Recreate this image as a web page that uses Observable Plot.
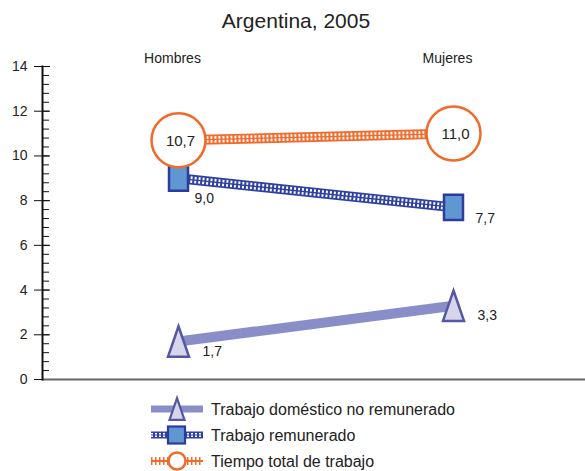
<!DOCTYPE html>
<html>
<head>
<meta charset="utf-8">
<script src="https://cdn.jsdelivr.net/npm/d3@7"></script>
<script src="https://cdn.jsdelivr.net/npm/@observablehq/plot@0.6"></script>
<style>
  html, body { margin: 0; padding: 0; background: #fff; }
  body { width: 585px; height: 471px; position: relative; overflow: hidden; font-family: "Liberation Sans", Arial, sans-serif; color: #222; }
  #title { position: absolute; left: 0; top: 10px; width: 585px; padding-left: 7px; box-sizing: border-box; text-align: center; font-size: 21px; line-height: 21px; }
  #chart { position: absolute; left: 0; top: 40px; }
  #legend { position: absolute; left: 0; top: 395px; }
</style>
</head>
<body>
<div id="title">Argentina, 2005</div>
<div id="chart"></div>
<div id="legend"></div>
<script>
// ---- data ----
const categories = ["Hombres", "Mujeres"];
const seriesNames = ["Trabajo doméstico no remunerado", "Trabajo remunerado", "Tiempo total de trabajo"];
const domestico = [1.7, 3.3];
const remunerado = [9.0, 7.7];
const total = [10.7, 11.0];
const yTicks = [0, 2, 4, 6, 8, 10, 12, 14];

// ---- styles ----
const style = {
  [seriesNames[0]]: {line: "#8a8ec8", fill: "#d6d5eb", stroke: "#5558a0"},
  [seriesNames[1]]: {line: "#2f40a0", fill: "#5f97d3", stroke: "#2d3c9c"},
  [seriesNames[2]]: {line: "#f26a2a", fill: "#ffffff", stroke: "#f26a2a"}
};

const rows = [];
[domestico, remunerado, total].forEach((vals, s) => {
  vals.forEach((v, i) => rows.push({serie: seriesNames[s], cat: categories[i], i, value: v}));
});
const fmt = v => d3.format(".1f")(v).replace(".", ",");
const rowsOf = s => rows.filter(d => d.serie === seriesNames[s]);

// custom symbols (stretched vertically like the original)
const rectSymbol = {draw(ctx, size) { const r = Math.sqrt(size / Math.PI); const hw = r, hh = r * 1.32; ctx.moveTo(-hw, -hh); ctx.lineTo(hw, -hh); ctx.lineTo(hw, hh); ctx.lineTo(-hw, hh); ctx.closePath(); }};
const triSymbol = {draw(ctx, size) { const r = Math.sqrt(size / Math.PI); const hw = r, hh = r * 1.45; ctx.moveTo(0, -hh); ctx.lineTo(hw, hh); ctx.lineTo(-hw, hh); ctx.closePath(); }};

function dottedLine(data, color, w) {
  return [
    Plot.line(data, {x: "cat", y: "value", stroke: color, strokeWidth: w, strokeLinecap: "butt"}),
    Plot.line(data, {x: "cat", y: "value", stroke: "#fff", strokeWidth: w - 3.5, strokeDasharray: "2,2", strokeLinecap: "butt"}),
    Plot.line(data, {x: "cat", y: "value", stroke: color, strokeWidth: 1.3, strokeLinecap: "butt"})
  ];
}

const minorTicks = d3.range(0, 36).map(i => i * 0.4);

const plot = Plot.plot({
  width: 585,
  height: 355,
  marginTop: 26,
  marginBottom: 16,
  marginLeft: 42,
  marginRight: 0,
  style: {fontFamily: '"Liberation Sans", Arial, sans-serif', color: "#222", background: "transparent"},
  x: {type: "point", domain: categories, range: [178, 453], padding: 0},
  y: {domain: [0, 14]},
  marks: [
    Plot.axisX({anchor: "top", tickSize: 0, tickPadding: 4, fontSize: 14, dx: -6, label: null}),
    Plot.axisY({ticks: yTicks, tickSize: 8, tickPadding: 7, fontSize: 14, label: null, stroke: "#111"}),
    Plot.axisY({ticks: yTicks, tickSize: -8, text: null, label: null, stroke: "#111"}),
    Plot.axisY({ticks: minorTicks, tickSize: -7, text: null, label: null, stroke: "#111"}),
    Plot.ruleY([0], {stroke: "#666", strokeWidth: 2}),
    Plot.frame({anchor: "left", stroke: "#111", strokeWidth: 2}),
    ...dottedLine(rowsOf(2), style[seriesNames[2]].line, 10),
    ...dottedLine(rowsOf(1), style[seriesNames[1]].line, 10),
    Plot.line(rowsOf(0), {x: "cat", y: "value", stroke: style[seriesNames[0]].line, strokeWidth: 10, strokeLinecap: "butt"}),
    Plot.dot(rowsOf(0), {x: "cat", y: "value", symbol: triSymbol, r: 10.5, fill: style[seriesNames[0]].fill, stroke: style[seriesNames[0]].stroke, strokeWidth: 2.5}),
    Plot.dot(rowsOf(1), {x: "cat", y: "value", symbol: rectSymbol, r: 9.5, fill: style[seriesNames[1]].fill, stroke: style[seriesNames[1]].stroke, strokeWidth: 2.5}),
    Plot.dot(rowsOf(2), {x: "cat", y: "value", r: 27, fill: style[seriesNames[2]].fill, stroke: style[seriesNames[2]].stroke, strokeWidth: 2.5}),
    // value labels
    Plot.text(rowsOf(2), {x: "cat", y: "value", text: d => fmt(d.value), fontSize: 15, dx: 2, dy: 1, fill: "#222"}),
    Plot.text(rowsOf(1).filter(d => d.i === 0), {x: "cat", y: "value", text: d => fmt(d.value), fontSize: 14, textAnchor: "start", dx: 16, dy: 20, fill: "#222"}),
    Plot.text(rowsOf(1).filter(d => d.i === 1), {x: "cat", y: "value", text: d => fmt(d.value), fontSize: 14, textAnchor: "start", dx: 22, dy: 11, fill: "#222"}),
    Plot.text(rowsOf(0), {x: "cat", y: "value", text: d => fmt(d.value), fontSize: 14, textAnchor: "start", dx: 24, dy: 10, fill: "#222"})
  ]
});
document.getElementById("chart").appendChild(plot);

// ---- legend ----
const lg = d3.select("#legend").append("svg").attr("width", 585).attr("height", 76)
  .style("font-family", '"Liberation Sans", Arial, sans-serif');
const line = d3.line();
seriesNames.forEach((name, k) => {
  const cy = 14 + k * 26;
  const g = lg.append("g");
  const st = style[name];
  const seg = [[151, cy], [203, cy]];
  if (k === 0) {
    g.append("path").attr("d", line(seg)).attr("stroke", st.line).attr("stroke-width", 7).attr("fill", "none");
    g.append("path").attr("d", d3.symbol(triSymbol, Math.PI * 7.5 * 7.5)()).attr("transform", `translate(177,${cy})`)
      .attr("fill", st.fill).attr("stroke", st.stroke).attr("stroke-width", 2.2);
  } else if (k === 1) {
    g.append("path").attr("d", line(seg)).attr("stroke", st.line).attr("stroke-width", 7).attr("fill", "none");
    g.append("path").attr("d", line(seg)).attr("stroke", "#fff").attr("stroke-width", 4).attr("stroke-dasharray", "2,2").attr("fill", "none");
    g.append("path").attr("d", line(seg)).attr("stroke", st.line).attr("stroke-width", 1).attr("fill", "none");
    g.append("rect").attr("x", 168).attr("y", cy - 8.5).attr("width", 17).attr("height", 17)
      .attr("fill", st.fill).attr("stroke", st.stroke).attr("stroke-width", 2.2);
  } else {
    g.append("path").attr("d", line(seg)).attr("stroke", st.line).attr("stroke-width", 1.8).attr("fill", "none");
    g.append("path").attr("d", line(seg)).attr("stroke", st.line).attr("stroke-width", 8).attr("stroke-dasharray", "1.5,2.5").attr("fill", "none");
    g.append("circle").attr("cx", 177).attr("cy", cy).attr("r", 8.5)
      .attr("fill", st.fill).attr("stroke", st.stroke).attr("stroke-width", 2.5);
  }
  g.append("text").attr("x", 211).attr("y", cy).attr("dy", "0.36em").attr("font-size", 16).attr("fill", "#222").text(name);
});
</script>
</body>
</html>
